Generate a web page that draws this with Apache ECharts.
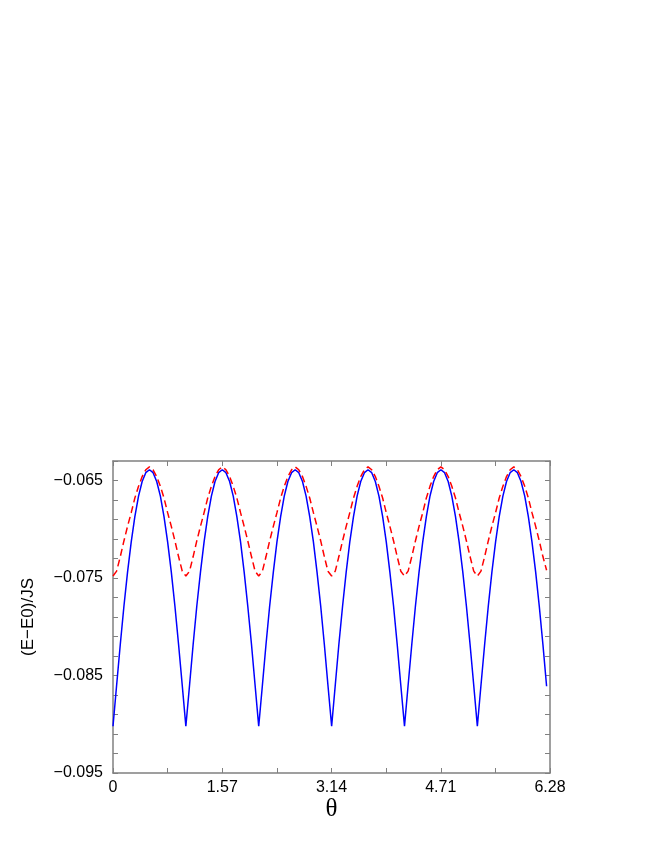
<!DOCTYPE html>
<html>
<head>
<meta charset="utf-8">
<script src="https://cdn.jsdelivr.net/npm/echarts@6/dist/echarts.min.js"></script>
<style>
  html, body { margin: 0; padding: 0; background: #fff; }
  #chart { width: 664px; height: 860px; }
</style>
</head>
<body>
<div id="chart"></div>
<script>
// theta samples
const thetas = [
  0.000, 0.052, 0.105, 0.157, 0.209, 0.262, 0.314, 0.367, 0.419, 0.471,
  0.524, 0.576, 0.628, 0.681, 0.733, 0.785, 0.838, 0.890, 0.942, 0.995,
  1.047, 1.100, 1.152, 1.204, 1.257, 1.309, 1.361, 1.414, 1.466, 1.518,
  1.571, 1.623, 1.676, 1.728, 1.780, 1.833, 1.885, 1.937, 1.990, 2.042,
  2.094, 2.147, 2.199, 2.251, 2.304, 2.356, 2.409, 2.461, 2.513, 2.566,
  2.618, 2.670, 2.723, 2.775, 2.827, 2.880, 2.932, 2.985, 3.037, 3.089,
  3.142, 3.194, 3.246, 3.299, 3.351, 3.403, 3.456, 3.508, 3.560, 3.613,
  3.665, 3.718, 3.770, 3.822, 3.875, 3.927, 3.979, 4.032, 4.084, 4.136,
  4.189, 4.241, 4.294, 4.346, 4.398, 4.451, 4.503, 4.555, 4.608, 4.660,
  4.712, 4.765, 4.817, 4.869, 4.922, 4.974, 5.027, 5.079, 5.131, 5.184,
  5.236, 5.288, 5.341, 5.393, 5.445, 5.498, 5.550, 5.603, 5.655, 5.707,
  5.760, 5.812, 5.864, 5.917, 5.969, 6.021, 6.074, 6.126, 6.178, 6.231
];

// solid blue curve
const blueE = [
  -0.0902, -0.0860, -0.0818, -0.0779, -0.0744, -0.0713, -0.0687, -0.0666, -0.0651, -0.0642,
  -0.0639, -0.0642, -0.0651, -0.0666, -0.0687, -0.0713, -0.0744, -0.0779, -0.0818, -0.0860,
  -0.0902, -0.0860, -0.0818, -0.0779, -0.0744, -0.0713, -0.0687, -0.0666, -0.0651, -0.0642,
  -0.0639, -0.0642, -0.0651, -0.0666, -0.0687, -0.0713, -0.0744, -0.0779, -0.0818, -0.0860,
  -0.0902, -0.0860, -0.0818, -0.0779, -0.0744, -0.0713, -0.0687, -0.0666, -0.0651, -0.0642,
  -0.0639, -0.0642, -0.0651, -0.0666, -0.0687, -0.0713, -0.0744, -0.0779, -0.0818, -0.0860,
  -0.0902, -0.0860, -0.0818, -0.0779, -0.0744, -0.0713, -0.0687, -0.0666, -0.0651, -0.0642,
  -0.0639, -0.0642, -0.0651, -0.0666, -0.0687, -0.0713, -0.0744, -0.0779, -0.0818, -0.0860,
  -0.0902, -0.0860, -0.0818, -0.0779, -0.0744, -0.0713, -0.0687, -0.0666, -0.0651, -0.0642,
  -0.0639, -0.0642, -0.0651, -0.0666, -0.0687, -0.0713, -0.0744, -0.0779, -0.0818, -0.0860,
  -0.0902, -0.0860, -0.0818, -0.0779, -0.0744, -0.0713, -0.0687, -0.0666, -0.0651, -0.0642,
  -0.0639, -0.0642, -0.0651, -0.0666, -0.0687, -0.0713, -0.0744, -0.0779, -0.0818, -0.0861
];

// dashed red curve
const redE = [
  -0.0748, -0.0743, -0.0728, -0.0712, -0.0697, -0.0683, -0.0668, -0.0656, -0.0646, -0.0639,
  -0.0636, -0.0639, -0.0646, -0.0656, -0.0668, -0.0683, -0.0697, -0.0712, -0.0728, -0.0743,
  -0.0748, -0.0743, -0.0728, -0.0712, -0.0697, -0.0683, -0.0668, -0.0656, -0.0646, -0.0639,
  -0.0636, -0.0639, -0.0646, -0.0656, -0.0668, -0.0683, -0.0697, -0.0712, -0.0728, -0.0743,
  -0.0748, -0.0743, -0.0728, -0.0712, -0.0697, -0.0683, -0.0668, -0.0656, -0.0646, -0.0639,
  -0.0636, -0.0639, -0.0646, -0.0656, -0.0668, -0.0683, -0.0697, -0.0712, -0.0728, -0.0743,
  -0.0748, -0.0743, -0.0728, -0.0712, -0.0697, -0.0683, -0.0668, -0.0656, -0.0646, -0.0639,
  -0.0636, -0.0639, -0.0646, -0.0656, -0.0668, -0.0683, -0.0697, -0.0712, -0.0728, -0.0743,
  -0.0748, -0.0743, -0.0728, -0.0712, -0.0697, -0.0683, -0.0668, -0.0656, -0.0646, -0.0639,
  -0.0636, -0.0639, -0.0646, -0.0656, -0.0668, -0.0683, -0.0697, -0.0712, -0.0728, -0.0743,
  -0.0748, -0.0743, -0.0728, -0.0712, -0.0697, -0.0683, -0.0668, -0.0656, -0.0646, -0.0639,
  -0.0636, -0.0639, -0.0646, -0.0656, -0.0668, -0.0683, -0.0697, -0.0712, -0.0728, -0.0742
];

const xTickLabels = ['0', '1.57', '3.14', '4.71', '6.28'];
const yTickLabels = ['\u22120.095', '\u22120.085', '\u22120.075', '\u22120.065'];

const axisColor = '#808080';
const labelFont = { color: '#000', fontSize: 16, fontFamily: 'Liberation Sans, Arial, sans-serif' };

const xLabel = (v) => {
  const k = Math.round(v / 0.785);
  return k % 2 === 0 ? xTickLabels[k / 2] : '';
};
const yLabel = (v) => {
  const k = (v + 0.095) / 0.01;
  const r = Math.round(k);
  return Math.abs(k - r) < 1e-6 && yTickLabels[r] ? yTickLabels[r] : '';
};

// box frame with inward ticks on every side
const frameAxis = () => ({
  axisLine: { show: true, onZero: false, lineStyle: { color: axisColor, width: 1.5 } },
  axisTick: { show: true, inside: true, length: 5, lineStyle: { color: axisColor, width: 1 } },
  splitLine: { show: false }
});

const chart = echarts.init(document.getElementById('chart'));
chart.setOption({
  animation: false,
  backgroundColor: '#fff',
  grid: { left: 113, right: 114, top: 461, bottom: 87 },
  xAxis: [
    Object.assign(frameAxis(), {
      type: 'value', position: 'bottom', min: 0, max: 6.28, interval: 0.785,
      axisLabel: Object.assign({}, labelFont, { margin: 7, formatter: xLabel }),
      name: '\u03b8', nameLocation: 'middle', nameGap: 22,
      nameTextStyle: { color: '#000', fontSize: 25, fontFamily: 'Liberation Serif, Times New Roman, serif' }
    }),
    Object.assign(frameAxis(), {
      type: 'value', position: 'top', min: 0, max: 6.28, interval: 0.785,
      axisLabel: { show: false }
    })
  ],
  yAxis: [
    Object.assign(frameAxis(), {
      type: 'value', position: 'left', min: -0.095, max: -0.063, interval: 0.002,
      axisLabel: Object.assign({}, labelFont, { margin: 10, formatter: yLabel }),
      name: '(E\u2212E0)/JS', nameLocation: 'middle', nameGap: 76, nameRotate: 90,
      nameTextStyle: { color: '#000', fontSize: 17, fontFamily: 'Liberation Sans, Arial, sans-serif' }
    }),
    Object.assign(frameAxis(), {
      type: 'value', position: 'right', min: -0.095, max: -0.063, interval: 0.002,
      axisLabel: { show: false }
    })
  ],
  series: [
    {
      type: 'line',
      data: thetas.map((t, i) => [t, blueE[i]]),
      showSymbol: false,
      lineStyle: { color: '#0000ff', width: 1.5 },
      z: 2
    },
    {
      type: 'line',
      data: thetas.map((t, i) => [t, redE[i]]),
      showSymbol: false,
      lineStyle: { color: '#ff0000', width: 1.5, type: [7, 4] },
      z: 3
    }
  ]
});
</script>
</body>
</html>
